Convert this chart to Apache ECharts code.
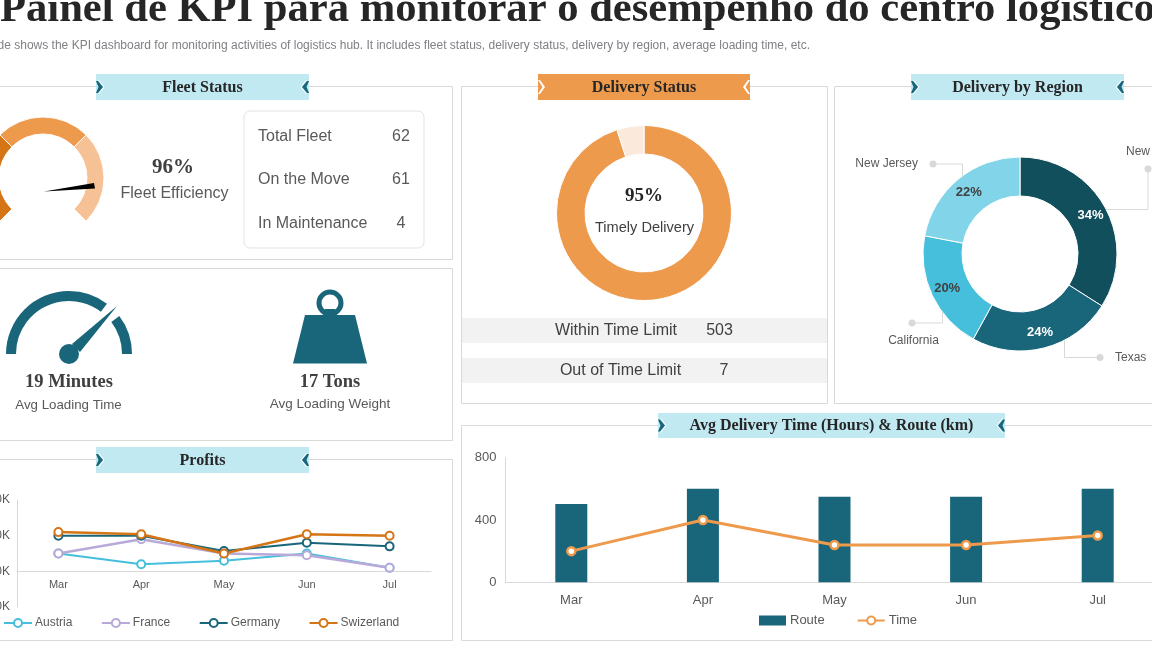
<!DOCTYPE html>
<html><head><meta charset="utf-8">
<style>html,body{margin:0;padding:0;background:#fff;overflow:hidden}#c{width:1152px;height:648px}</style>
<script src="https://cdn.jsdelivr.net/npm/echarts@6/dist/echarts.min.js"></script>
</head><body><div id="c"></div>
<script>
const months = ['Mar','Apr','May','Jun','Jul'];
const austria = [5,2,3,5,1];
const france = [5,9,5,4.5,1];
const germany = [10,10,5.7,8,7];
const swizerland = [11,10.4,5,10.4,10];
const profitTicks = ['$20K','$10K','$0K','-$10K'];
const route = [503,600,550,550,600];
const time = [200,400,240,240,300];
const regions = ['New York','Texas','California','New Jersey'];
const regionShare = [34,24,20,22];
const regionColors = ['#124f5c','#19657a','#46bfdc','#82d4e8'];
const regionLabelColors = ['#fff','#fff','#404040','#404040'];
const deliveryShare = [95,5];
const fleetSegments = [90,90,90,90];

const SERIF = '"Liberation Serif"', SANS = '"Liberation Sans"';
const TEAL='#19657a', ORANGE='#ee9a4d', DARK='#262626', GREY='#595959', LINE='#d9d9d9';
const g = [];
const text = (x,y,t,o={}) => g.push({type:'text',z:o.z||5,x,y:y+1,style:{text:t,font:`${o.b?'bold ':''}${o.s||14}px ${o.f||SANS}`,fill:o.c||GREY,align:o.a||'left',verticalAlign:o.v||'middle'}});
const rect = (x,y,w,h,o={}) => g.push({type:'rect',z:o.z||1,shape:{x,y,width:w,height:h,r:o.r||0},style:{fill:o.fill||'none',stroke:o.stroke||null,lineWidth:o.lw||1}});
const poly = (pts,c,lw=1.5) => g.push({type:'polyline',z:4,shape:{points:pts},style:{stroke:c,lineWidth:lw,fill:'none',lineJoin:'miter'}});
const fillPoly = (pts,c) => g.push({type:'polygon',z:4,shape:{points:pts},style:{fill:c}});
const circle = (x,y,r,o={}) => g.push({type:'circle',z:o.z||4,shape:{cx:x,cy:y,r},style:{fill:o.fill||'none',stroke:o.stroke||null,lineWidth:o.lw||1}});
const arc = (cx,cy,r0,r,a0,a1,c) => g.push({type:'sector',z:4,shape:{cx,cy,r0,r,startAngle:a0*Math.PI/180,endAngle:a1*Math.PI/180,clockwise:true},style:{fill:c}});

// Title
text(0,30,'Painel de KPI para monitorar o desempenho do centro logístico',{f:SERIF,b:1,s:42.6,c:DARK,v:'bottom'});
text(810,44.5,'This slide shows the KPI dashboard for monitoring activities of logistics hub. It includes fleet status, delivery status, delivery by region, average loading time, etc.',{s:12,c:'#7f7f85',a:'right'});

// Panels
rect(-5.5,86.5,458,173,{stroke:LINE});
rect(-5.5,268.5,458,172,{stroke:LINE});
rect(-5.5,459.5,458,181,{stroke:LINE});
rect(461.5,86.5,366,317,{stroke:LINE});
rect(834.5,86.5,340,317,{stroke:LINE});
rect(461.5,425.5,720,215,{stroke:LINE});

// Ribbons
function ribbon(x,y,w,h,label,fill,chev,bump){
  rect(x,y,w,h,{fill,z:2});
  const m=y+h/2;
  if(bump){
    fillPoly([[x,m-6],[x+2,m-6],[x+7,m],[x+2,m+6],[x,m+6],[x+2.5,m]],chev);
    fillPoly([[x+w,m-6],[x+w-2,m-6],[x+w-7,m],[x+w-2,m+6],[x+w,m+6],[x+w-2.5,m]],chev);
    poly([[x+2.5,m-7],[x+8,m],[x+2.5,m+7]],'#fff',1);
    poly([[x+w-2.5,m-7],[x+w-8,m],[x+w-2.5,m+7]],'#fff',1);
  } else {
    fillPoly([[x,m-7],[x+2,m-7],[x+7,m],[x+2,m+7],[x,m+7],[x+4.5,m]],chev);
    fillPoly([[x+w,m-7],[x+w-2,m-7],[x+w-7,m],[x+w-2,m+7],[x+w,m+7],[x+w-4.5,m]],chev);
  }
  text(x+w/2,m-0.5,label,{f:SERIF,b:1,s:16,c:DARK,a:'center'});
}
ribbon(96,74,213,26,'Fleet Status','#c1e9f2',TEAL,true);
ribbon(538,74,212,26,'Delivery Status',ORANGE,'#fff',false);
ribbon(911,74,213,26,'Delivery by Region','#c1e9f2',TEAL,true);
ribbon(96,447,213,26,'Profits','#c1e9f2',TEAL,true);
ribbon(658,413,347,25,'Avg Delivery Time (Hours) & Route (km)','#c1e9f2',TEAL,true);

// Fleet status
fillPoly([[44,191.5],[94,183],[95,188.5]],'#000');
text(173,166.5,'96%',{f:SERIF,b:1,s:21,c:'#404040',a:'center'});
text(174.5,193,'Fleet Efficiency',{s:16,a:'center'});
rect(244,111,180,137,{stroke:'#e3e3e3',r:6,lw:1});
[['Total Fleet','62',135.5],['On the Move','61',179],['In Maintenance','4',223]].forEach(r=>{
  text(258,r[2],r[0],{s:16}); text(401,r[2],r[1],{s:16,a:'center'});
});

// Speedometer icon
arc(69,354,53,63,180,307,TEAL);
arc(69,354,53,63,323,360,TEAL);
fillPoly([[117,306],[80,352],[72,344]],TEAL);
circle(69,354,10,{fill:TEAL});
text(69,381,'19 Minutes',{f:SERIF,b:1,s:18.5,c:'#404040',a:'center'});
text(68.5,404.5,'Avg Loading Time',{s:13.3,a:'center'});

// Weight icon
circle(330,303,11,{stroke:TEAL,lw:5});
fillPoly([[305,315],[355,315],[367,363.5],[293,363.5]],TEAL);
fillPoly([[323,315],[325,309],[335,309],[337,315]],TEAL);
text(330,381,'17 Tons',{f:SERIF,b:1,s:18.5,c:'#404040',a:'center'});
text(330,403.5,'Avg Loading Weight',{s:13.5,a:'center'});

// Delivery
text(644,195,'95%',{f:SERIF,b:1,s:19,c:DARK,a:'center'});
text(644.5,227,'Timely Delivery',{s:14.6,c:'#404040',a:'center'});
rect(462,318,365,25,{fill:'#f2f2f2'});
rect(462,358,365,25,{fill:'#f2f2f2'});
text(616,329.5,'Within Time Limit',{s:16,c:'#404040',a:'center'});
text(719.5,329.5,'503',{s:16,c:'#404040',a:'center'});
text(620.5,369.5,'Out of Time Limit',{s:16,c:'#404040',a:'center'});
text(724,369.5,'7',{s:16,c:'#404040',a:'center'});

// Region callouts
const CALL='#d9d9d9';
poly([[933,164],[962.5,164],[962.5,177]],CALL,1);circle(933,164,3.5,{fill:CALL});
text(918,163,'New Jersey',{s:12,a:'right'});
poly([[912,323],[942.5,323],[942.5,312]],CALL,1);circle(912,323,3.5,{fill:CALL});
text(913.5,340,'California',{s:12,a:'center'});
poly([[1100,357.5],[1064.5,357.5],[1064.5,340]],CALL,1);circle(1100,357.5,3.5,{fill:CALL});
text(1115,356.5,'Texas',{s:12});
poly([[1148,169],[1148,209.5],[1106,209.5]],CALL,1);circle(1148,169,3.5,{fill:CALL});
text(1126,151,'New York',{s:12});

const pieBase = {type:'pie',silent:true,animation:false,label:{show:false},labelLine:{show:false},emphasis:{disabled:true},z:3};
const lineCommon = (name,data,color,lw,sym,bw=2)=>({name,type:'line',data,symbol:'circle',symbolSize:sym,showSymbol:true,
  lineStyle:{color,width:lw},itemStyle:{color:'#fff',borderColor:color,borderWidth:bw},animation:false,silent:true});

const option = {
  animation:false,
  backgroundColor:'#fff',
  graphic:{elements:g},
  textStyle:{fontFamily:SANS},
  grid:[
    {left:17,top:500,width:414,height:107,containLabel:false,outerBoundsMode:'none'},
    {left:505.5,top:457.7,width:658,height:124.6,containLabel:false,outerBoundsMode:'none'}
  ],
  xAxis:[
    {type:'category',gridIndex:0,data:months,axisLine:{onZero:true,lineStyle:{color:LINE}},axisTick:{show:false},
      axisLabel:{color:GREY,fontSize:11,fontFamily:SANS,margin:-28,interval:0}},
    {type:'category',gridIndex:1,data:months,axisLine:{lineStyle:{color:LINE}},axisTick:{show:false},
      axisLabel:{color:GREY,fontSize:13,fontFamily:SANS,margin:12,interval:0}}
  ],
  yAxis:[
    {type:'value',gridIndex:0,min:-10,max:20,interval:10,splitLine:{show:false},axisLine:{show:true,lineStyle:{color:LINE}},axisTick:{show:false},
      axisLabel:{color:GREY,fontSize:12,fontFamily:SANS,margin:7,formatter:v=>profitTicks[(20-v)/10]}},
    {type:'value',gridIndex:1,min:0,max:800,interval:400,splitLine:{show:false},axisLine:{show:true,lineStyle:{color:LINE}},axisTick:{show:false},
      axisLabel:{color:GREY,fontSize:13,fontFamily:SANS,margin:9}}
  ],
  legend:[
    {left:3,top:617,padding:0,itemWidth:28,itemHeight:10,itemGap:28.5,data:['Austria','France','Germany','Swizerland'],textStyle:{color:GREY,fontSize:12,fontFamily:SANS,padding:[0,0,0,-2]},selectedMode:false},
    {left:759,top:614,padding:0,itemWidth:27,itemHeight:10,itemGap:32,data:[{name:'Route',icon:'rect'},'Time'],textStyle:{color:GREY,fontSize:13,fontFamily:SANS,padding:[0,0,0,-1]},selectedMode:false}
  ],
  series:[
    {...pieBase,name:'fleet',center:[43,178],radius:[44,61],startAngle:225,clockwise:true,data:fleetSegments.map((v,i)=>({value:v,itemStyle:{color:['#d57515','#ee9a4d','#f5c195','rgba(0,0,0,0)'][i],borderColor:i<3?'#fff':'rgba(0,0,0,0)',borderWidth:i<3?1:0}}))},
    {...pieBase,name:'delivery',center:[644,213],radius:[59,87.5],startAngle:90,data:deliveryShare.map((v,i)=>({value:v,itemStyle:{color:[ORANGE,'#fbe9dc'][i],borderColor:'#fff',borderWidth:1}}))},
    {...pieBase,name:'region',center:[1020,254],radius:[58,97],startAngle:90,
      data:regions.map((n,i)=>({name:n,value:regionShare[i],itemStyle:{color:regionColors[i],borderColor:'#fff',borderWidth:1},
        label:{show:true,position:'inside',formatter:'{d}%',color:regionLabelColors[i],fontSize:13,fontWeight:'bold',fontFamily:SANS,padding:[3,0,0,0]}}))},
    lineCommon('Austria',austria,'#46bfdc',2,8),
    lineCommon('France',france,'#b8a9d9',2.5,8),
    lineCommon('Germany',germany,TEAL,2,8),
    lineCommon('Swizerland',swizerland,'#d57515',2.5,8),
    {name:'Route',type:'bar',xAxisIndex:1,yAxisIndex:1,data:route,barWidth:32,itemStyle:{color:TEAL},animation:false,silent:true},
    {...lineCommon('Time',time,ORANGE,3,8,2.5),xAxisIndex:1,yAxisIndex:1}
  ]
};
echarts.init(document.getElementById('c'),null,{renderer:'canvas'}).setOption(option);
</script></body></html>
